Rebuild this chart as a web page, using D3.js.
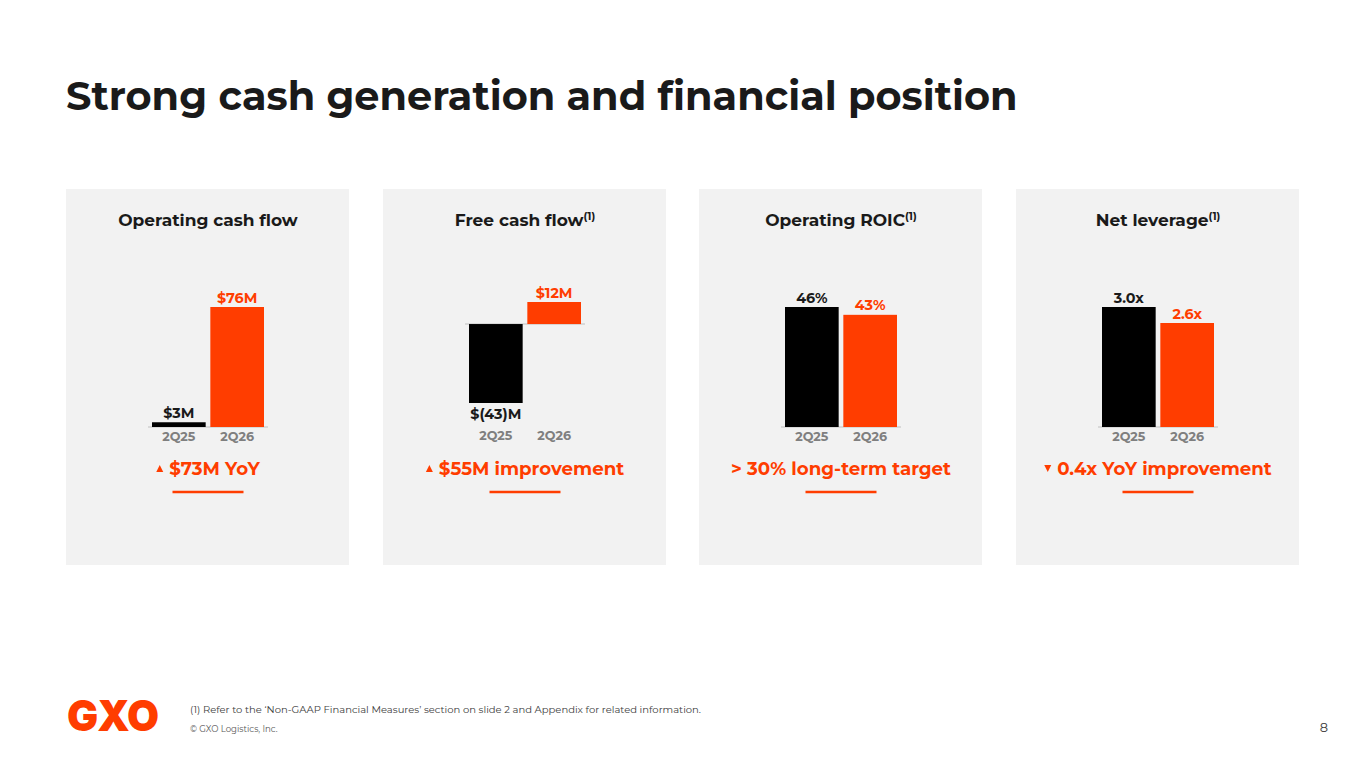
<!DOCTYPE html>
<html><head><meta charset="utf-8">
<script src="https://cdn.jsdelivr.net/npm/d3@7/dist/d3.min.js"></script>
<style>
html,body{margin:0;padding:0;background:#fff;}
svg{display:block;font-family:Montserrat,Inter,"Open Sans",sans-serif;}
</style></head>
<body>
<script>
// ---- data ----
const slideTitle = "Strong cash generation and financial position";
const panelTitles = ["Operating cash flow", "Free cash flow", "Operating ROIC", "Net leverage"];
const panelFootnoteMark = [false, true, true, true];
const categories = ["2Q25", "2Q26"];
const values2Q25 = [3, -43, 46, 3.0];
const values2Q26 = [76, 12, 43, 2.6];
const labels2Q25 = ["$3M", "$(43)M", "46%", "3.0x"];
const labels2Q26 = ["$76M", "$12M", "43%", "2.6x"];
const highlights = ["$73M YoY", "$55M improvement", "> 30% long-term target", "0.4x YoY improvement"];
const highlightArrows = ["up", "up", "", "down"];
const footnote = "(1) Refer to the \u2018Non-GAAP Financial Measures\u2019 section on slide 2 and Appendix for related information.";
const copyright = "\u00A9 GXO Logistics, Inc.";
const pageNumber = "8";

// ---- layout ----
const W = 1365, H = 768;
const ORANGE = "#ff3d00", BLACK = "#000000", PANEL = "#f2f2f2";
const panelX = [66, 383, 699, 1016], panelW = 283, panelY = 189, panelH = 376;
const yRanges = [[427, 307], [403, 302], [427, 307], [427, 307]];

const svg = d3.select("body").append("svg").attr("width", W).attr("height", H);

// title
const title = svg.append("text").attr("x", 66).attr("y", 110)
  .attr("font-size", 44).attr("font-weight", 700).attr("fill", "#1a1a1a").text(slideTitle);
const tw = title.node().getComputedTextLength();
if (tw > 0) title.attr("font-size", 44 * 952 / tw);

panelTitles.forEach((t, i) => {
  const x0 = panelX[i], cx = x0 + panelW / 2 + 0.5;
  const g = svg.append("g");
  g.append("rect").attr("x", x0).attr("y", panelY).attr("width", panelW).attr("height", panelH).attr("fill", PANEL);

  const tt = g.append("text").attr("x", cx).attr("y", 226).attr("text-anchor", "middle")
    .attr("font-size", 17).attr("font-weight", 700).attr("fill", "#1a1a1a");
  tt.append("tspan").text(t);
  if (panelFootnoteMark[i]) tt.append("tspan").attr("font-size", 10.5).attr("dy", -6).text("(1)");

  const vals = [values2Q25[i], values2Q26[i]];
  const labs = [labels2Q25[i], labels2Q26[i]];
  const x = d3.scaleBand().domain(categories).range([cx - 56, cx + 56]).paddingInner(0.08).paddingOuter(0);
  const y = d3.scaleLinear().domain([Math.min(0, d3.min(vals)), Math.max(0, d3.max(vals))]).range(yRanges[i]);

  // baseline
  g.append("line").attr("x1", cx - 60).attr("x2", cx + 60).attr("y1", y(0)).attr("y2", y(0))
    .attr("stroke", "#d0d0d0").attr("stroke-width", 1.5);

  categories.forEach((c, j) => {
    const v = vals[j];
    g.append("rect").attr("x", x(c)).attr("width", x.bandwidth())
      .attr("y", Math.min(y(v), y(0))).attr("height", Math.abs(y(v) - y(0)))
      .attr("fill", j === 0 ? BLACK : ORANGE);
    const ly = v >= 0 ? y(v) - 4.5 : y(v) + 15.5;
    g.append("text").attr("x", x(c) + x.bandwidth() / 2).attr("y", ly).attr("text-anchor", "middle")
      .attr("font-size", 14.3).attr("font-weight", 700).attr("fill", j === 0 ? "#1a1a1a" : ORANGE).text(labs[j]);
  });

  // axis labels
  const axis = d3.axisBottom(x).tickSize(0).tickPadding(0);
  const ag = g.append("g").attr("transform", `translate(0,${i === 1 ? 431 : 432})`).call(axis);
  ag.select(".domain").remove();
  ag.selectAll("text").attr("font-size", 12.7).attr("font-weight", 700).attr("fill", "#7f7f7f")
    .attr("font-family", "Montserrat,Inter,sans-serif");

  // highlight
  const ht = g.append("text").attr("y", 474.5).attr("text-anchor", "start")
    .attr("font-size", 18.2).attr("font-weight", 700).attr("fill", ORANGE).text(highlights[i]);
  const hw = ht.node().getComputedTextLength();
  const arrowW = highlightArrows[i] ? 13 : 0;
  const startX = cx - (hw + arrowW) / 2;
  ht.attr("x", startX + arrowW);
  if (highlightArrows[i]) {
    const ax = startX + 3.5, ay = 468.5;
    const up = highlightArrows[i] === "up";
    g.append("path")
      .attr("d", up ? `M${ax - 3.5},${ay + 3.5}L${ax + 3.5},${ay + 3.5}L${ax},${ay - 3.5}Z`
                    : `M${ax - 3.5},${ay - 3.5}L${ax + 3.5},${ay - 3.5}L${ax},${ay + 3.5}Z`)
      .attr("fill", ORANGE);
  }

  g.append("line").attr("x1", cx - 35.5).attr("x2", cx + 35.5).attr("y1", 492).attr("y2", 492)
    .attr("stroke", ORANGE).attr("stroke-width", 2.5);
});

// footer
const logo = svg.append("text").attr("x", 67).attr("y", 731).attr("font-size", 43).attr("font-weight", 900)
  .attr("fill", ORANGE).attr("font-family", "Inter,Montserrat,sans-serif").text("GXO");
logo.attr("textLength", 92).attr("lengthAdjust", "spacingAndGlyphs");
svg.append("text").attr("x", 190).attr("y", 712.5).attr("font-size", 10).attr("fill", "#404040").text(footnote);
svg.append("text").attr("x", 190).attr("y", 732).attr("font-size", 8.6).attr("fill", "#595959").text(copyright);
svg.append("text").attr("x", 1328).attr("y", 732).attr("text-anchor", "end").attr("font-size", 13).attr("fill", "#404040").text(pageNumber);
</script>
</body></html>
